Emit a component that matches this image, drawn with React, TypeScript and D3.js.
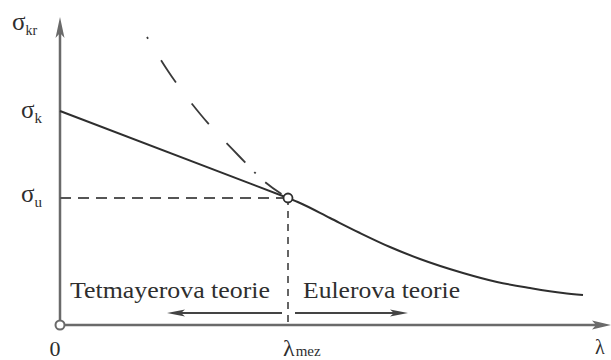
import React from "react";
import * as d3 from "d3";

// Axis domains (λ, σ)
const lambdaDomain = [0, 110];
const sigmaDomain = [0, 305];

// Key values
const lambdaMez = 45.6;
const sigmaK = 214;
const sigmaU = 127;

// Tetmajer straight line
const tetmajerLine: [number, number][] = [
  [0, sigmaK],
  [lambdaMez, sigmaU],
];

// Euler curve (valid region)
const eulerLambda = [45.6, 48, 54, 60, 66, 72, 80.6, 87.4, 94, 100.6, 104.6];
const eulerSigma = [127, 122, 107, 92, 78, 66, 52, 43, 37, 32, 30];

// Euler curve extension (dashed, invalid region)
const eulerExtLambda = [17.4, 21.6, 28.2, 35.6, 41, 45.6];
const eulerExtSigma = [288, 254, 210, 170, 143, 127];

// Theory region labels
const regionLabels = ["Tetmayerova teorie", "Eulerova teorie"];
const regionArrowEnds = [21.4, 69.6];

const W = 611;
const H = 360;
const FONT =
  "'Liberation Serif', 'Times New Roman', Times, 'Noto Serif', 'DejaVu Serif', Tinos, 'Nimbus Roman', FreeSerif, serif";

export default function App() {
  const x = d3.scaleLinear().domain(lambdaDomain).range([60, 610]);
  const y = d3.scaleLinear().domain(sigmaDomain).range([325, 20]);

  const line = d3
    .line<[number, number]>()
    .x((d) => x(d[0]))
    .y((d) => y(d[1]))
    .curve(d3.curveMonotoneX);

  const straight = d3
    .line<[number, number]>()
    .x((d) => x(d[0]))
    .y((d) => y(d[1]));

  const euler = eulerLambda.map((l, i) => [l, eulerSigma[i]] as [number, number]);
  const eulerExt = eulerExtLambda.map((l, i) => [l, eulerExtSigma[i]] as [number, number]);

  const x0 = x(0);
  const y0 = y(0);
  const xm = x(lambdaMez);
  const yu = y(sigmaU);
  const arrowY = 313;
  const axisColor = "#6a6a6a";
  const ink = "#2e2e2e";
  const ts: React.CSSProperties = { fontFamily: FONT };

  return (
    <svg
      width={W}
      height={H}
      style={{ position: "absolute", left: 0, top: 0, background: "#fff", fontFamily: FONT }}
    >
      {/* axes */}
      <line x1={x0} y1={y0} x2={x0} y2={28} stroke={axisColor} strokeWidth={2.5} />
      <path d={`M${x0 - 4.5},38 L${x0},17 L${x0 + 4.5},38 L${x0},33 Z`} fill={axisColor} />
      <line x1={x0} y1={y0} x2={600} y2={y0} stroke={axisColor} strokeWidth={2.5} />
      <path d={`M592,${y0 - 4.5} L611,${y0} L592,${y0 + 4.5} L596,${y0} Z`} fill={axisColor} />

      {/* reference dashed lines */}
      <line x1={x0} y1={yu} x2={xm} y2={yu} stroke="#555" strokeWidth={1.8} strokeDasharray="11 7" />
      <line x1={xm} y1={yu} x2={xm} y2={y0} stroke="#555" strokeWidth={1.8} strokeDasharray="7 6" />

      {/* Euler extension (dashed) */}
      <path
        d={line(eulerExt) || ""}
        fill="none"
        stroke="#3a3a3a"
        strokeWidth={1.8}
        strokeDasharray="2 25 27 26 27 26 27 13 2 13 20 40"
      />

      {/* Tetmajer line */}
      <path d={straight(tetmajerLine) || ""} fill="none" stroke={ink} strokeWidth={2} />
      {/* Euler curve */}
      <path d={line(euler) || ""} fill="none" stroke={ink} strokeWidth={2} />

      {/* points */}
      <circle cx={xm} cy={yu} r={4.5} fill="#fff" stroke={ink} strokeWidth={1.8} />
      <circle cx={x0} cy={y0} r={4.5} fill="#fff" stroke={axisColor} strokeWidth={2} />

      {/* region arrows */}
      <line x1={xm - 6} y1={arrowY} x2={x(regionArrowEnds[0]) + 8} y2={arrowY} stroke="#444" strokeWidth={1.8} />
      <path
        d={`M${x(regionArrowEnds[0])},${arrowY} L${x(regionArrowEnds[0]) + 18},${arrowY - 3.5} L${x(regionArrowEnds[0]) + 14},${arrowY} L${x(regionArrowEnds[0]) + 18},${arrowY + 3.5} Z`}
        fill="#444"
      />
      <line x1={xm + 7} y1={arrowY} x2={x(regionArrowEnds[1]) - 8} y2={arrowY} stroke="#444" strokeWidth={1.8} />
      <path
        d={`M${x(regionArrowEnds[1])},${arrowY} L${x(regionArrowEnds[1]) - 18},${arrowY - 3.5} L${x(regionArrowEnds[1]) - 14},${arrowY} L${x(regionArrowEnds[1]) - 18},${arrowY + 3.5} Z`}
        fill="#444"
      />

      {/* region labels */}
      <text x={70} y={298} fontSize={23} fill={ink} style={ts} textLength={200} lengthAdjust="spacingAndGlyphs">
        {regionLabels[0]}
      </text>
      <text x={303} y={298} fontSize={23} fill={ink} style={ts} textLength={157} lengthAdjust="spacingAndGlyphs">
        {regionLabels[1]}
      </text>

      {/* axis labels */}
      <text x={12} y={30} fontSize={25} fill={ink} style={ts}>
        σ<tspan fontSize={14} dy={5}>kr</tspan>
      </text>
      <text x={21} y={118} fontSize={25} fill={ink} style={ts}>
        σ<tspan fontSize={15} dy={5}>k</tspan>
      </text>
      <text x={21} y={202} fontSize={25} fill={ink} style={ts}>
        σ<tspan fontSize={15} dy={5}>u</tspan>
      </text>
      <text x={55} y={356} fontSize={22} fill={ink} style={ts} textAnchor="middle">
        0
      </text>
      <text x={283} y={356} fontSize={24} fill={ink} style={ts}>
        λ<tspan fontSize={15} dx={1}>mez</tspan>
      </text>
      <text x={595} y={354} fontSize={20} fill={ink} style={ts}>
        λ
      </text>
    </svg>
  );
}
